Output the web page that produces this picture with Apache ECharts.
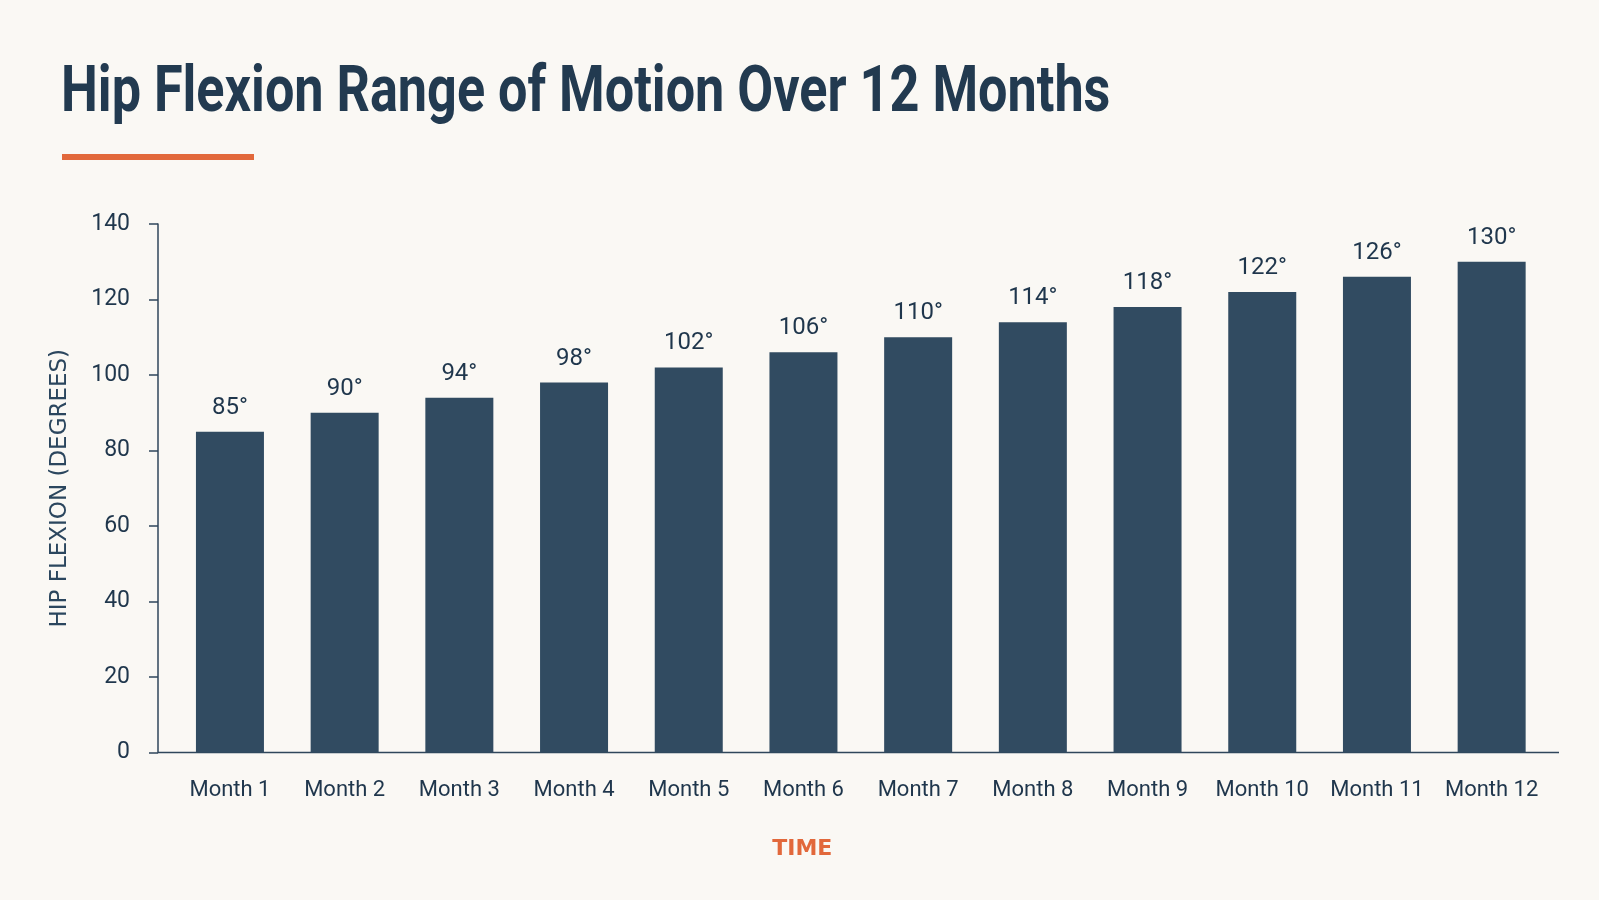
<!DOCTYPE html>
<html>
<head>
<meta charset="utf-8">
<script src="https://cdn.jsdelivr.net/npm/echarts@6/dist/echarts.min.js"></script>
<style>
html,body{margin:0;padding:0;background:#faf8f4;}
#chart{width:1599px;height:900px;}
</style>
</head>
<body>
<div id="chart"></div>
<script>
const titleText = 'Hip Flexion Range of Motion Over 12 Months';
const categories = ['Month 1','Month 2','Month 3','Month 4','Month 5','Month 6','Month 7','Month 8','Month 9','Month 10','Month 11','Month 12'];
const flexionDegrees = [85, 90, 94, 98, 102, 106, 110, 114, 118, 122, 126, 130];
const yAxisName = 'HIP FLEXION (DEGREES)';
const xAxisName = 'TIME';
const yTicks = { min: 0, max: 140, interval: 20 };

const NAVY = '#1f364c';
const BAR = '#314b61';
const ORANGE = '#e2683b';
const AXIS = '#2f465b';
const FONT = "Roboto, 'Noto Sans', sans-serif";

const chart = echarts.init(document.getElementById('chart'));
const option = {
  backgroundColor: '#faf8f4',
  animation: false,
  grid: { left: 172.6, right: 50, top: 224, bottom: 147.5, containLabel: false },
  xAxis: {
    type: 'category',
    data: categories,
    boundaryGap: true,
    axisLine: { show: false },
    axisTick: { show: false },
    axisLabel: { interval: 0, margin: 27, fontFamily: FONT, fontSize: 22, color: NAVY },
    name: xAxisName,
    nameLocation: 'middle',
    nameGap: 86,
    nameTextStyle: { fontFamily: 'DejaVu Sans', fontWeight: 'bold', fontSize: 22, color: ORANGE, padding: [0, 117, 0, 0] }
  },
  yAxis: {
    type: 'value',
    min: yTicks.min,
    max: yTicks.max,
    interval: yTicks.interval,
    offset: 14.6,
    axisLine: { show: true, lineStyle: { color: AXIS, width: 1.5 } },
    axisTick: { show: true, length: 9, lineStyle: { color: AXIS, width: 1.5 } },
    splitLine: { show: false },
    axisLabel: { margin: 28, fontFamily: FONT, fontSize: 23, color: NAVY },
    name: yAxisName,
    nameLocation: 'middle',
    nameRotate: 90,
    nameGap: 86,
    nameTextStyle: { fontFamily: 'DejaVu Sans', fontSize: 23, color: '#2b465e' }
  },
  series: [{
    type: 'bar',
    data: flexionDegrees,
    barWidth: 68,
    itemStyle: { color: BAR },
    label: {
      show: true,
      position: 'top',
      distance: 12,
      formatter: p => p.value + '°',
      fontFamily: FONT,
      fontSize: 24,
      color: NAVY
    }
  }]
};
chart.setOption(option);

// title (condensed bold), accent rule under it, and full-length baseline
const y0 = chart.convertToPixel({ yAxisIndex: 0 }, 0);
chart.setOption({
  graphic: [
    {
      type: 'text', x: 61, y: 95, scaleX: 0.815,
      style: { text: titleText, x: 0, y: 0, verticalAlign: 'middle', align: 'left',
               font: 'bold 64px Roboto, sans-serif', fill: '#223a50' }
    },
    { type: 'rect', shape: { x: 62, y: 154, width: 192, height: 6 }, style: { fill: ORANGE } },
    { type: 'line', shape: { x1: 158, y1: y0, x2: 1559, y2: y0 }, style: { stroke: AXIS, lineWidth: 1.5 } }
  ]
});
</script>
</body>
</html>
